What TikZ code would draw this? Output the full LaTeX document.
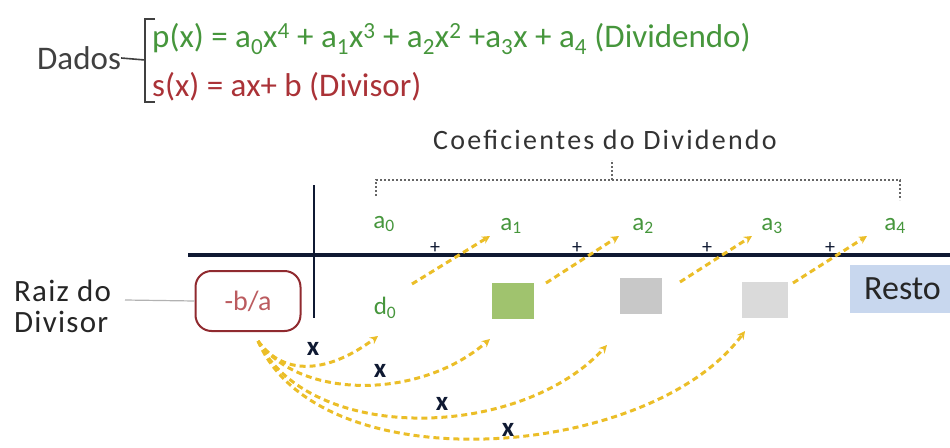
\documentclass[tikz,border=0pt]{standalone}
\usepackage{fontspec}
\setmainfont{Carlito}
\usetikzlibrary{arrows.meta}
\definecolor{eqgreen}{RGB}{70,150,60}
\definecolor{eqred}{RGB}{170,50,55}
\definecolor{navyline}{RGB}{15,25,50}
\definecolor{gold}{RGB}{235,190,40}
\definecolor{sqgreen}{RGB}{160,195,110}
\definecolor{sqgray}{RGB}{200,200,200}
\definecolor{sqlight}{RGB}{218,218,218}
\definecolor{restobg}{RGB}{200,215,238}
\newcommand{\sub}[1]{\textsubscript{#1}}
\newcommand{\sups}[1]{\textsuperscript{#1}}
\tikzset{
  coef/.style={text=eqgreen,font=\fontsize{25}{25}\selectfont,inner sep=1pt},
  sq/.style={minimum width=42pt,minimum height=36pt,inner sep=0pt},
  mult/.style={text=navyline,font=\bfseries\fontsize{27}{27}\selectfont,inner sep=1pt},
  goldarrow/.style={draw=gold,line width=3pt,dash pattern=on 6pt off 4pt,-{Stealth[length=8pt,width=8pt]}},
  plusmark/.style={font=\fontsize{20}{20}\selectfont,text=navyline,inner sep=0pt},
}
\begin{document}
\begin{tikzpicture}[x=1pt,y=-1pt]
\useasboundingbox (0,0) rectangle (950,447);
% header
\node[anchor=west,font=\fontsize{33}{33}\selectfont,text=black!75,inner sep=0pt] (dados) at (37,58) {Dados};
\draw[black!75,line width=1.6pt] (dados.east) -- (145,60);
\draw[black!75,line width=2pt] (155,19) -- (145,19) -- (145,102) -- (155,102);
\node[anchor=west,text=eqgreen,font=\fontsize{33}{33}\selectfont,inner sep=0pt] (peq) at (152,39)
  {p(x) = a\sub{0}x\sups{4} + a\sub{1}x\sups{3} + a\sub{2}x\sups{2} +a\sub{3}x + a\sub{4} (Dividendo)};
\node[anchor=west,text=eqred,font=\fontsize{33}{33}\selectfont,inner sep=0pt] (seq) at (152,87)
  {s(x) = ax+ b (Divisor)};
% coefficient title and dashed brace
\node[font=\addfontfeature{LetterSpace=8}\fontsize{28}{28}\selectfont,text=black!80] (title) at (605,140) {Coeficientes do Dividendo};
\coordinate (bl) at (376,196);
\coordinate (br) at (900,200);
\coordinate (bt) at (612,160);
\draw[black!60,line width=1.4pt,dash pattern=on 2pt off 2pt] (bl) -- (376,180) -- (900,180) -- (br);
\draw[black!60,line width=1.4pt,dash pattern=on 2pt off 2pt] (612,180) -- (bt);
% coefficients
\node[coef] (a0) at (384,224) {a\sub{0}};
\node[coef] (a1) at (511,226) {a\sub{1}};
\node[coef] (a2) at (643,226) {a\sub{2}};
\node[coef] (a3) at (772,226) {a\sub{3}};
\node[coef] (a4) at (895,226) {a\sub{4}};
% Briot-Ruffini axes
\coordinate (hL) at (188,255);
\coordinate (hR) at (950,255);
\coordinate (vT) at (314,185);
\coordinate (vB) at (314,318);
\draw[navyline,line width=2.6pt] (vT) -- (vB);
\draw[navyline,line width=4pt] (hL) -- (hR);
% plus marks
\node[plusmark] (p1) at (435,248) {+};
\node[plusmark] (p2) at (577,248) {+};
\node[plusmark] (p3) at (707,248) {+};
\node[plusmark] (p4) at (830,248) {+};
% bottom row
\node[draw=eqred!85!black,line width=2pt,rounded corners=16pt,minimum width=105pt,minimum height=60pt,
  text=eqred!80,font=\fontsize{28}{28}\selectfont] (root) at (248,301) {-b/a};
\node[coef] (d0) at (385,308) {d\sub{0}};
\node[sq,fill=sqgreen] (s1) at (513,301) {};
\node[sq,fill=sqgray] (s2) at (641,296) {};
\node[sq,fill=sqlight,minimum width=46pt] (s3) at (765,300) {};
\node[fill=restobg,minimum width=100pt,minimum height=48pt,anchor=west,inner sep=0pt] (resto) at (850,289) {};
\node[anchor=west,font=\fontsize{34}{34}\selectfont,text=black!85,inner sep=0pt] at (864,289) {Resto};
% root label
\node[anchor=west,font=\addfontfeature{LetterSpace=4}\fontsize{31}{31}\selectfont,align=left,text=black!85,inner sep=0pt] (raiz) at (14,306) {Raiz do\\Divisor};
\draw[black!30,line width=1.2pt] (125,300) -- (root.west);
% diagonal gold arrows
\draw[goldarrow] (412,284) -- (490,236);
\draw[goldarrow] (546,283) -- (619,236);
\draw[goldarrow] (680,282) -- (752,236);
\draw[goldarrow] (793,283) -- (867,236);
% curved gold arrows
\coordinate (rs) at (258,341);
\draw[goldarrow] (rs) .. controls (285,378) and (330,372) .. (378,336);
\draw[goldarrow] (rs) .. controls (300,400) and (420,400) .. (490,339);
\draw[goldarrow] (rs) .. controls (310,445) and (520,440) .. (607,345);
\draw[goldarrow] (rs) .. controls (320,485) and (650,460) .. (745,331);
% multiplication labels
\node[mult] (x1) at (313,349) {x};
\node[mult] (x2) at (380,371) {x};
\node[mult] (x3) at (442,404) {x};
\node[mult] (x4) at (508,430) {x};
\end{tikzpicture}
\end{document}
